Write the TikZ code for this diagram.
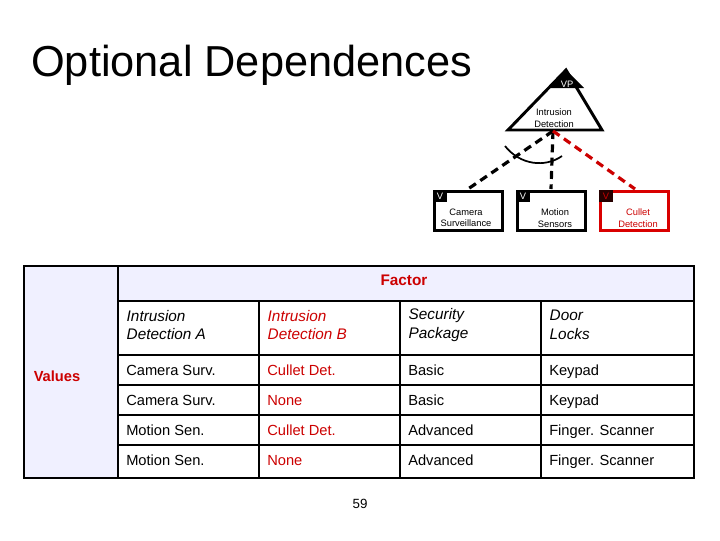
\documentclass[tikz,border=0pt]{standalone}
\usepackage{fontspec}
\setmainfont{Liberation Sans}
\begin{document}
\begin{tikzpicture}[x=0.75pt,y=-0.75pt,
 vbox/.style={draw,line width=2.2pt,minimum width=51pt,minimum height=29pt,anchor=north west,inner sep=0pt},
 tag/.style={fill=black,text=white,font=\fontsize{7}{7}\selectfont,minimum width=10pt,minimum height=8.5pt,inner sep=0pt,anchor=north west},
 lbl/.style={font=\fontsize{7}{8.5}\selectfont,align=center},
 dep/.style={line width=2.4pt,dash pattern=on 6pt off 4pt},
 cell/.style={font=\fontsize{11}{13.5}\selectfont,anchor=base west,align=left,inner sep=0pt},
 hcell/.style={font=\fontsize{11.5}{14}\selectfont\itshape,anchor=west,align=left}]
\useasboundingbox (0,0) rectangle (720,540);
\fill[white] (0,0) rectangle (720,540);
\node[anchor=base west,font=\fontsize{32.5}{36}\selectfont,inner sep=0pt] (title) at (31,76) {Optional Dependences};
% triangle
\fill[black] (566,70) -- (548,88) -- (584,88) -- cycle;
\draw[line width=2.2pt,line join=miter] (566,70) -- (508,130) -- (602,130) -- cycle;
\node[text=white,font=\fontsize{7}{7}\selectfont] (vp) at (567,84) {VP};
\node[lbl] (vpl) at (554,118) {Intrusion\\Detection};
\coordinate (vpb) at (553,131);
% boxes
\node[vbox] (cam) at (433,190) {};
\node[vbox] (mot) at (516,190) {};
\node[vbox,draw=red!85!black] (cul) at (599,190) {};
\node[tag] (t1) at (cam.north west) {V};
\node[tag] (t2) at (mot.north west) {V};
\node[tag,fill=black!85!red,text=red!80!black] (t3) at (cul.north west) {V};
\node[lbl] at (466,218) {Camera\\Surveillance};
\node[lbl] at (555,218) {Motion\\Sensors};
\node[lbl,text=red!80!black] at (638,218) {Cullet\\Detection};
\draw[dep] (vpb) -- (468,189);
\draw[dep] (vpb) -- (551,189);
\draw[dep,red!80!black] (vpb) -- (635,189);
\draw[line width=1.3pt] (505,146) .. controls (520,165) and (545,168) .. (562,156);
% table
\fill[blue!6] (24,266) rectangle (118,478);
\fill[blue!6] (118,266) rectangle (694,301);
\draw[line width=2pt] (24,266) rectangle (694,478);
\draw[line width=1.5pt] (118,266) -- (118,478);
\foreach \y in {301,355,385,415,445} \draw[line width=1.5pt] (118,\y) -- (694,\y);
\foreach \x in {259,400,541} \draw[line width=1.5pt] (\x,301) -- (\x,478);
\node[font=\fontsize{11.5}{14}\selectfont\bfseries,text=red!80!black] (factor) at (404,280) {Factor};
\node[font=\fontsize{11}{14}\selectfont\bfseries,text=red!80!black] (values) at (57,376) {Values};
\node[hcell] at (122,325) {Intrusion\\Detection A};
\node[hcell,text=red!80!black] at (263,325) {Intrusion\\Detection B};
\node[hcell] at (404,325) {Security\\Package};
\node[hcell] at (545,325) {Door\\Locks};
\foreach \y/\a/\b/\c/\d in {375/Camera Surv./Cullet Det./Basic/Keypad,405/Camera Surv./None/Basic/Keypad,435/Motion Sen./Cullet Det./Advanced/Finger. Scanner,465/Motion Sen./None/Advanced/Finger. Scanner}{
 \node[cell] at (126,\y) {\a};
 \node[cell,text=red!80!black] at (267,\y) {\b};
 \node[cell] at (408,\y) {\c};
 \node[cell] at (549,\y) {\d};
}
\node[font=\fontsize{10}{12}\selectfont] (pg) at (360,504) {59};
\end{tikzpicture}
\end{document}
